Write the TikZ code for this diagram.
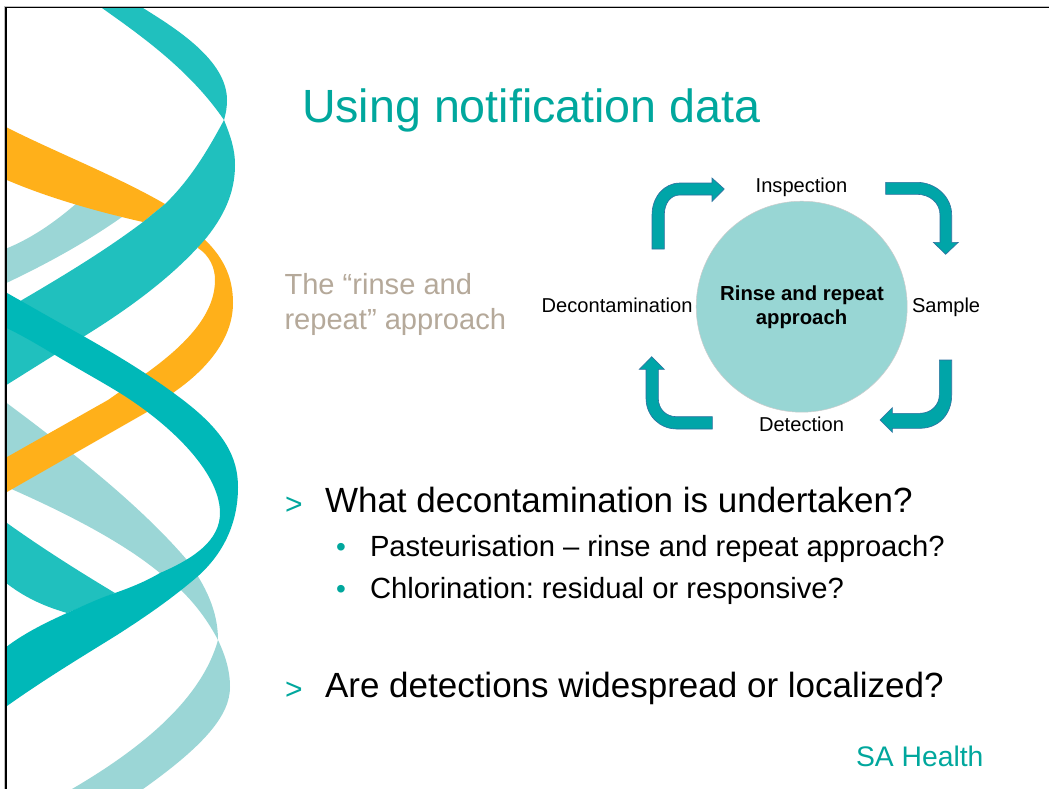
\documentclass[tikz,border=0pt]{standalone}
\usepackage{fontspec}
\setmainfont{Liberation Sans}
\frenchspacing
\definecolor{tealA}{HTML}{20C0BE}
\definecolor{tealB}{HTML}{00B8B8}
\definecolor{tealL}{HTML}{9BD6D6}
\definecolor{amber}{HTML}{FFB01A}
\definecolor{titleteal}{HTML}{00A79D}
\definecolor{arrowfill}{HTML}{00A5A8}
\definecolor{arrowline}{HTML}{2F6F9F}
\definecolor{circfill}{HTML}{98D6D4}
\definecolor{greytext}{HTML}{B5A99A}
\tikzset{
  txt/.style={inner sep=0pt,outer sep=0pt,anchor=base west,align=left},
  lab/.style={inner sep=0pt,outer sep=0pt,anchor=base,font=\fontsize{20.1}{24}\selectfont,text=black},
  cyclearrow/.style={fill=arrowfill,draw=arrowline,line width=0.6pt,line join=miter},
  titletext/.style={txt,font=\fontsize{46.6}{50}\selectfont,text=titleteal},
  lead/.style={txt,font=\fontsize{35}{40}\selectfont,text=black},
  subtext/.style={txt,font=\fontsize{29.2}{34}\selectfont,text=black},
  bulletmark/.style={txt,text=titleteal},
}
\begin{document}
\begin{tikzpicture}[x=1pt,y=-1pt]
\useasboundingbox (0,0) rectangle (1049,789);
\fill[white] (0,0) rectangle (1049,789);
\begin{scope}
\clip (6,8) rectangle (1049,789);
% light teal ribbons
\fill[tealL] (0,251) .. controls (30,240) and (55,222) .. (77,203) -- (122,217) .. controls (85,243) and (45,265) .. (0,286) -- cycle;
\fill[tealL] (0,398) .. controls (70,450) and (140,505) .. (187,560) .. controls (205,585) and (218,610) .. (218,640)
  .. controls (225,655) and (230,670) .. (230,687) .. controls (230,715) and (205,745) .. (143,789) -- (72,789)
  .. controls (130,755) and (200,705) .. (218,640) .. controls (205,615) and (185,590) .. (160,573) .. controls (120,540) and (60,510) .. (0,484) -- cycle;
% amber ribbons
\fill[amber] (0,124) .. controls (50,150) and (115,175) .. (165,204) -- (143,222) .. controls (90,210) and (40,195) .. (0,177) -- cycle;
\fill[amber] (200,235) .. controls (222,255) and (233,275) .. (233,303) .. controls (233,340) and (205,370) .. (177,390)
  -- (147,412) -- (0,496) -- (0,461) -- (108,400) -- (148,372) .. controls (185,345) and (215,315) .. (215,280) .. controls (215,268) and (210,256) .. (198,248) -- cycle;
% teal ribbons
\fill[tealA] (102,8) -- (143,8) .. controls (175,28) and (227,60) .. (227,100) .. controls (227,107) and (226,113) .. (224,120) .. controls (190,70) and (140,35) .. (102,8) -- cycle;
\fill[tealA] (224,120) .. controls (230,135) and (235,148) .. (235,165) .. controls (235,195) and (222,218) .. (207,237)
  .. controls (175,275) and (130,308) .. (83,337) -- (0,389) -- (0,316) -- (22,300) .. controls (70,272) and (110,247) .. (143,222) -- (165,204) .. controls (190,180) and (208,150) .. (224,120) -- cycle;
\fill[tealA] (0,518) .. controls (40,547) and (80,572) .. (115,593) -- (67,613) .. controls (40,605) and (20,595) .. (0,578) -- cycle;
% dark teal ribbon
\fill[tealB] (0,289) .. controls (30,306) and (58,322) .. (85,337) .. controls (120,357) and (150,375) .. (183,400)
  .. controls (225,432) and (238,458) .. (238,487) .. controls (238,525) and (222,555) .. (197,577)
  .. controls (170,600) and (145,617) .. (117,635) .. controls (80,658) and (40,682) .. (0,711) --
  (0,652) .. controls (20,635) and (45,623) .. (67,613) .. controls (85,605) and (100,598) .. (115,593)
  .. controls (135,586) and (148,580) .. (160,573) .. controls (195,558) and (220,540) .. (220,513)
  .. controls (220,470) and (165,420) .. (115,390) .. controls (95,378) and (75,367) .. (55,355) .. controls (35,343) and (18,333) .. (0,325) -- cycle;
\end{scope}
% frame
\draw[black!25,line width=0.8pt] (4.6,789) -- (4.6,6.2) -- (1049,6.2);
\draw[black,line width=1.4pt] (6,789) -- (6,7.5) -- (1049,7.5);
% title
\node[titletext] (title) at (302,123) {Using notification data};
\node[txt,font=\fontsize{29.1}{34}\selectfont,text=greytext] (rinse1) at (284.5,294.5) {The “rinse and};
\node[txt,font=\fontsize{29.1}{34}\selectfont,text=greytext] (rinse2) at (284.5,329) {repeat” approach};
% cycle
\node[circle,fill=circfill,draw=black!20,line width=0.5pt,minimum size=211pt,inner sep=0pt] (hub) at (801.7,306.7) {};
\node[lab,font=\fontsize{20.3}{24}\selectfont\bfseries] (hub1) at (802,300.5) {Rinse and repeat};
\node[lab,font=\fontsize{20.3}{24}\selectfont\bfseries] (hub2) at (801.5,324.5) {approach};
\node[lab] (insp) at (801.5,192) {Inspection};
\node[lab,anchor=base east] (decon) at (692.5,312.5) {Decontamination};
\node[lab,anchor=base west] (samp) at (912,312.5) {Sample};
\node[lab] (detect) at (801.5,431.5) {Detection};
\draw[cyclearrow] (652,249) -- (652,215) .. controls (652,197) and (664,183) .. (680,183) -- (712,183) -- (712,178) -- (724.3,189) -- (712,201.5) -- (712,195) -- (680,195) .. controls (670,195) and (664.3,204) .. (664.3,215) -- (664.3,249) -- cycle;
\draw[cyclearrow] (885.7,182.3) -- (916.7,182.3) .. controls (936,182.3) and (951.7,197) .. (951.7,215) -- (951.7,242.3) -- (958.3,242.3) -- (945.7,254.3) -- (933.3,242.3) -- (940,242.3) -- (940,215) .. controls (940,203) and (930,194.3) .. (916.7,194.3) -- (885.7,194.3) -- cycle;
\draw[cyclearrow] (939.3,360) -- (951.7,360) -- (951.7,395) .. controls (951.7,415) and (938,428.3) .. (920,428.3) -- (892.3,428.3) -- (892.3,432.3) -- (880,420) -- (892.3,407.7) -- (892.3,413.3) -- (920,413.3) .. controls (931,413.3) and (939.3,405) .. (939.3,395) -- cycle;
\draw[cyclearrow] (712.3,416.7) -- (712.3,429) -- (676.7,429) .. controls (660,429) and (646,416) .. (646,398.3) -- (646,369.3) -- (639.3,369.3) -- (651.7,356.7) -- (664.3,369.3) -- (658.3,369.3) -- (658.3,398.3) .. controls (658.3,409) and (666,416.7) .. (676.7,416.7) -- cycle;
% bullets
\node[bulletmark,font=\fontsize{30}{34}\selectfont] (m1) at (285,514) {>};
\node[lead] (q1) at (325,512) {What decontamination is undertaken?};
\node[bulletmark,font=\fontsize{28}{32}\selectfont] (b1) at (336,556) {•};
\node[subtext] (s1) at (370,556) {Pasteurisation – rinse and repeat approach?};
\node[bulletmark,font=\fontsize{28}{32}\selectfont] (b2) at (336,598) {•};
\node[subtext] (s2) at (370,598) {Chlorination: residual or responsive?};
\node[bulletmark,font=\fontsize{30}{34}\selectfont] (m2) at (285,699) {>};
\node[lead] (q2) at (325,697) {Are detections widespread or localized?};
\node[txt,font=\fontsize{28.3}{32}\selectfont,text=titleteal] (sa) at (856,766) {SA Health};
\end{tikzpicture}
\end{document}
